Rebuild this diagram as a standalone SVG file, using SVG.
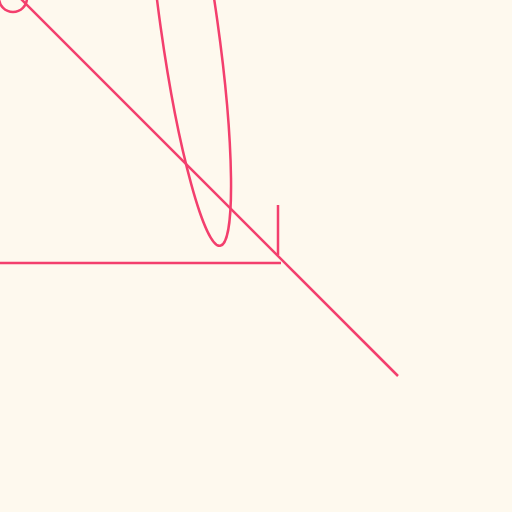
<svg xmlns="http://www.w3.org/2000/svg" width="512" height="512" viewBox="0 0 512 512">
<style>
.s{fill:none;stroke:#f33f6d;stroke-width:2.5;stroke-linecap:butt}
</style>
<rect width="512" height="512" fill="#fef9ee"/>
<circle class="s" cx="13" cy="-2" r="14"/>
<ellipse class="s" cx="189" cy="24" rx="28.5" ry="224" transform="rotate(-8 189 24)"/>
<line class="s" x1="20" y1="-2" x2="398" y2="376"/>
<line class="s" x1="0" y1="263" x2="281" y2="263"/>
<line class="s" x1="278" y1="205" x2="278" y2="255"/>
</svg>
